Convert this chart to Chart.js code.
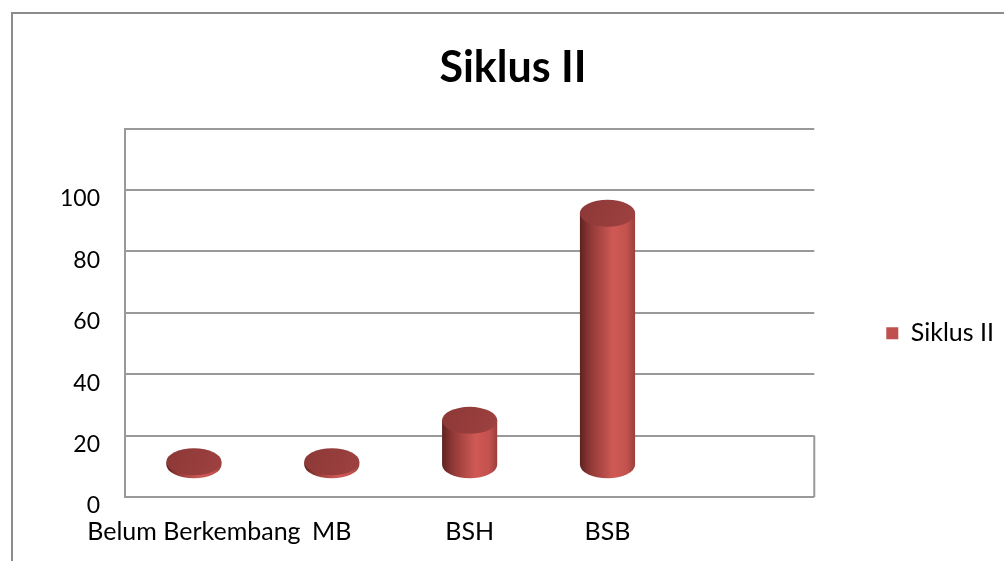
<!DOCTYPE html>
<html lang="id">
<head>
  <meta charset="UTF-8">
  <title>Siklus II</title>
  <script src="https://cdn.jsdelivr.net/npm/chart.js"></script>
  <style>
    body {
      margin: 0;
      background: #fff;
      overflow: hidden;
    }
    .frame {
      position: absolute;
      left: 11px;
      top: 12px;
      width: 1100px;
      height: 700px;
      border: 2px solid #8c8c8c;
    }
    .wrap {
      position: absolute;
      left: 0;
      top: 0;
      width: 1004px;
      height: 561px;
    }
  </style>
</head>
<body>
  <div class="frame"></div>
  <div class="wrap"><canvas id="chart"></canvas></div>

  <script>
    // data
    const categories = ['Belum Berkembang', 'MB', 'BSH', 'BSB', ''];
    const siklus2 = [0, 0, 15, 85, null];
    const seriesName = 'Siklus II';
    const yTicks = [0, 20, 40, 60, 80, 100, 120];

    const fontName = 'Lato, "Open Sans", sans-serif';
    const gridColor = '#999999';

    // cylinders instead of flat bars
    const cylinders = {
      id: 'cylinders',
      beforeDatasetsDraw(chart) {
        const ctx = chart.ctx;
        const meta = chart.getDatasetMeta(0);
        const ys = chart.scales.y;

        // right floor edge
        ctx.save();
        ctx.strokeStyle = gridColor;
        ctx.lineWidth = 2;
        ctx.beginPath();
        ctx.moveTo(chart.chartArea.right, ys.getPixelForValue(20));
        ctx.lineTo(chart.chartArea.right, ys.getPixelForValue(0));
        ctx.stroke();
        ctx.restore();

        meta.data.forEach((bar, i) => {
          if (siklus2[i] === null) return;
          const rx = bar.width / 2;
          const ry = 13.5;
          const x = bar.x;
          const base = bar.base;
          let top = bar.y;
          if (base - top < 3) top = base - 3;

          ctx.save();
          const g = ctx.createLinearGradient(x - rx, 0, x + rx, 0);
          g.addColorStop(0, '#5e2221');
          g.addColorStop(0.18, '#8e3836');
          g.addColorStop(0.6, '#cf5955');
          g.addColorStop(0.85, '#c4524e');
          g.addColorStop(1, '#9a3f3d');
          ctx.fillStyle = g;
          ctx.beginPath();
          ctx.moveTo(x - rx, top);
          ctx.lineTo(x - rx, base);
          ctx.ellipse(x, base, rx, ry, 0, Math.PI, 0, true);
          ctx.lineTo(x + rx, top);
          ctx.closePath();
          ctx.fill();

          const t = ctx.createLinearGradient(x - rx, top - ry, x + rx, top + ry);
          t.addColorStop(0, '#8c3837');
          t.addColorStop(1, '#9e4240');
          ctx.fillStyle = t;
          ctx.beginPath();
          ctx.ellipse(x, top, rx, ry, 0, 0, Math.PI * 2);
          ctx.fill();
          ctx.restore();
        });
        return false;
      }
    };

    new Chart(document.getElementById('chart'), {
      type: 'bar',
      data: {
        labels: categories,
        datasets: [{
          label: seriesName,
          data: siklus2,
          yAxisID: 'y2',
          backgroundColor: '#c0504d',
          categoryPercentage: 0.8,
          barPercentage: 0.5
        }]
      },
      options: {
        responsive: true,
        maintainAspectRatio: false,
        animation: false,
        layout: {
          padding: { top: 0, right: 0, bottom: -6, left: 22 }
        },
        plugins: {
          title: {
            display: true,
            text: seriesName,
            color: '#000',
            font: { family: fontName, size: 43, weight: 'bold' },
            padding: { top: 42, bottom: 35 }
          },
          legend: {
            position: 'right',
            title: { display: true, text: '', font: { size: 12 }, padding: { top: 0, bottom: 85 } },
            labels: {
              boxWidth: 12,
              boxHeight: 12,
              color: '#000',
              font: { family: fontName, size: 25 }
            }
          },
          tooltip: { enabled: false }
        },
        scales: {
          x: {
            grid: { display: false, drawTicks: false },
            border: { display: false },
            ticks: {
              color: '#000',
              font: { family: fontName, size: 25 },
              padding: 20,
              autoSkip: false,
              maxRotation: 0
            }
          },
          y: {
            min: 0,
            max: 120,
            afterBuildTicks(scale) {
              scale.ticks = yTicks.map(v => ({ value: v }));
            },
            afterFit(scale) { scale.width = 103; },
            grid: { color: gridColor, lineWidth: 2, drawTicks: false },
            border: { display: true, color: gridColor, width: 2 },
            ticks: {
              color: '#000',
              font: { family: fontName, size: 23 },
              padding: 25,
              labelOffset: 9,
              callback: v => (v === 120 ? '' : v)
            }
          },
          y2: {
            position: 'right',
            min: -10.9,
            max: 113.6,
            afterFit(scale) { scale.width = 62; },
            grid: { display: false },
            border: { display: false },
            ticks: { display: false }
          }
        }
      },
      plugins: [cylinders]
    });
  </script>
</body>
</html>
